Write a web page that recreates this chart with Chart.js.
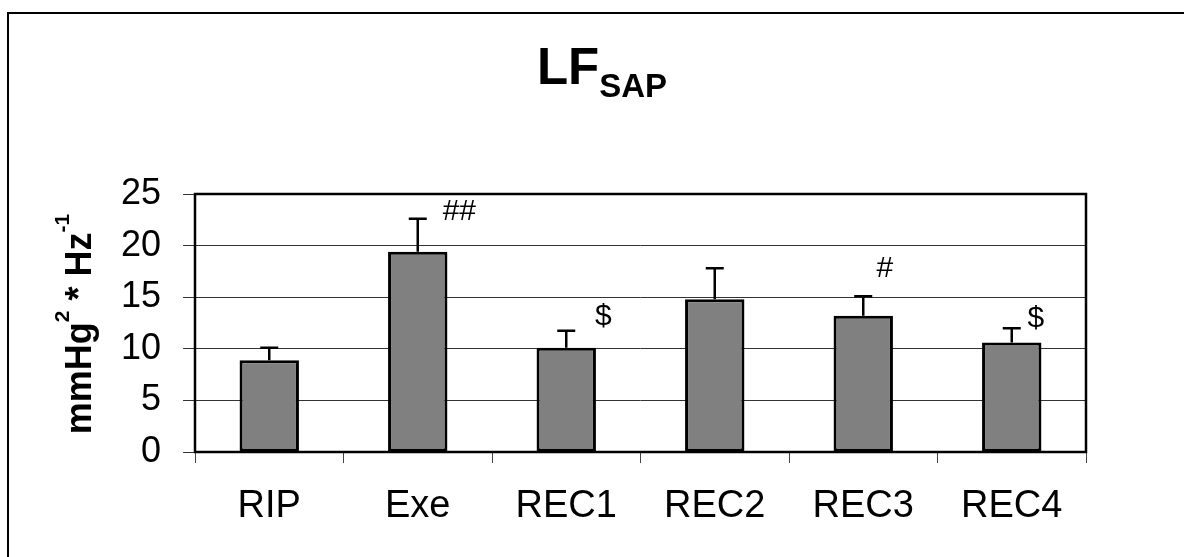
<!DOCTYPE html>
<html>
<head>
<meta charset="utf-8">
<script src="https://cdn.jsdelivr.net/npm/chart.js@4.4.1/dist/chart.umd.min.js"></script>
<style>
  html, body { margin: 0; padding: 0; background: #fff; }
  #wrap { width: 1184px; height: 557px; }
</style>
</head>
<body>
<div id="wrap"><canvas id="lfChart" width="1184" height="557"></canvas></div>
<script>
// data
const categories = ["RIP", "Exe", "REC1", "REC2", "REC3", "REC4"];
const meanValues = [8.9, 19.4, 10.1, 14.8, 13.2, 10.6];
const semValues = [1.2, 3.2, 1.65, 3.0, 1.9, 1.4];
const yTicks = [0, 5, 10, 15, 20, 25];
const markTexts = ["", "##", "$", "", "#", "$"];

// where the significance marks sit (value level, shift in category widths)
const markPlace = {
    level: [null, 23.3, 13.1, null, 17.8, 12.9],
    shift: [0, 0.28, 0.25, 0, 0.146, 0.163],
};

const FONT = "'Liberation Sans', Arial, sans-serif";

// frame, error bars, marks and the titles
const decorPlugin = {
    id: "decor",
    beforeDraw(chart) {
        const c = chart.ctx;
        c.save();
        c.fillStyle = "#fff";
        c.fillRect(0, 0, chart.width, chart.height);
        c.strokeStyle = "#000";
        c.lineWidth = 2;
        c.strokeRect(8, 13, chart.width + 20, chart.height + 20);
        c.restore();
    },
    afterDatasetsDraw(chart) {
        const c = chart.ctx;
        const area = chart.chartArea;
        const xs = chart.scales.x;
        const ys = chart.scales.y;
        const meta = chart.getDatasetMeta(0);

        c.save();
        // error bars (upper only)
        c.strokeStyle = "#000";
        c.lineWidth = 2.5;
        meta.data.forEach((bar, i) => {
            const yTop = ys.getPixelForValue(meanValues[i] + semValues[i]);
            c.beginPath();
            c.moveTo(bar.x, bar.y);
            c.lineTo(bar.x, yTop);
            c.moveTo(bar.x - 9, yTop);
            c.lineTo(bar.x + 9, yTop);
            c.stroke();
        });

        // plot frame
        c.lineWidth = 2.5;
        c.strokeRect(area.left, area.top, area.right - area.left, area.bottom - area.top);

        // significance marks
        const step = xs.getPixelForValue(1) - xs.getPixelForValue(0);
        c.fillStyle = "#000";
        c.font = "30px " + FONT;
        c.textAlign = "center";
        c.textBaseline = "middle";
        markTexts.forEach((t, i) => {
            if (!t) return;
            const x = xs.getPixelForValue(i) + markPlace.shift[i] * step;
            const y = ys.getPixelForValue(markPlace.level[i]);
            c.fillText(t, x, y);
        });
        c.restore();
    },
    afterDraw(chart) {
        const c = chart.ctx;
        c.save();
        c.fillStyle = "#000";
        c.textBaseline = "alphabetic";
        c.textAlign = "left";

        // title LF with SAP subscript
        c.font = "bold 51px " + FONT;
        const wLF = c.measureText("LF").width;
        c.font = "bold 33px " + FONT;
        const wSAP = c.measureText("SAP").width;
        const x0 = 602 - (wLF + wSAP) / 2;
        c.font = "bold 51px " + FONT;
        c.fillText("LF", x0, 84);
        c.font = "bold 33px " + FONT;
        c.fillText("SAP", x0 + wLF, 97);

        // y axis title with superscripts
        const big = "bold 36px " + FONT;
        const small = "bold 21px " + FONT;
        const parts = [
            { t: "mmHg", f: big, dy: 0 },
            { t: "2", f: small, dy: -22 },
            { t: " * Hz", f: big, dy: 0 },
            { t: "-1", f: small, dy: -22 },
        ];
        let total = 0;
        parts.forEach((p) => {
            c.font = p.f;
            p.w = c.measureText(p.t).width;
            total += p.w;
        });
        c.translate(91, 324);
        c.rotate(-Math.PI / 2);
        let x = -total / 2;
        parts.forEach((p) => {
            c.font = p.f;
            c.fillText(p.t, x, p.dy);
            x += p.w;
        });
        c.restore();
    },
};

const ctx = document.getElementById("lfChart").getContext("2d");

new Chart(ctx, {
    type: "bar",
    data: {
        labels: categories,
        datasets: [
            {
                data: meanValues,
                backgroundColor: "#808080",
                borderColor: "#000",
                borderWidth: 3,
                borderSkipped: false,
                barPercentage: 0.4,
                categoryPercentage: 1,
            },
        ],
    },
    options: {
        responsive: false,
        animation: false,
        layout: {
            padding: { left: 0, top: 194, right: 98, bottom: 0 },
        },
        plugins: {
            legend: { display: false },
            title: { display: false },
            tooltip: { enabled: false },
        },
        scales: {
            x: {
                ticks: {
                    font: { family: FONT, size: 38 },
                    color: "#000",
                    padding: 21,
                },
                grid: {
                    offset: true,
                    drawOnChartArea: false,
                    tickLength: 11,
                    color: "#444",
                },
                border: { display: false },
                afterFit: (s) => { s.height = 105; },
            },
            y: {
                min: 0,
                max: 25,
                afterBuildTicks: (s) => { s.ticks = yTicks.map((v) => ({ value: v })); },
                ticks: {
                    font: { family: FONT, size: 36 },
                    color: "#000",
                    padding: 22,
                },
                grid: {
                    color: "#333",
                    lineWidth: 1,
                    tickLength: 12,
                },
                border: { display: false },
                afterFit: (s) => { s.width = 195; },
            },
        },
    },
    plugins: [decorPlugin],
});
</script>
</body>
</html>
